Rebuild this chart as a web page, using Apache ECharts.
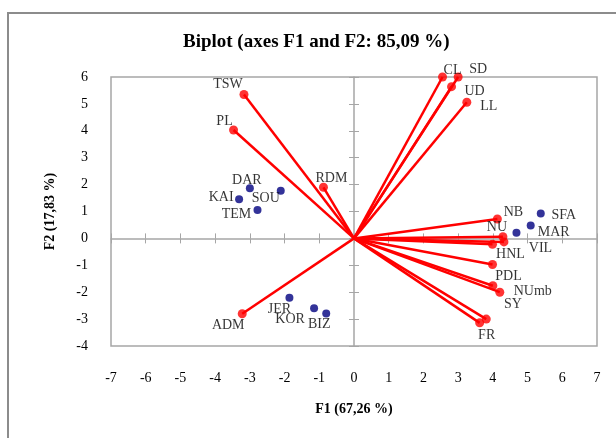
<!DOCTYPE html>
<html><head><meta charset="utf-8">
<script src="https://cdn.jsdelivr.net/npm/echarts@6/dist/echarts.min.js"></script>
<style>html,body{margin:0;padding:0;background:#fff}#c{width:616px;height:438px}</style>
</head><body><div id="c"></div>
<script>
// Variables (red vectors)
const varNames = ['TSW','PL','RDM','ADM','CL','SD','UD','LL','NB','NU','','HNL','PDL','SY','NUmb','','FR'];
const varF1 = [-3.17,-3.47,-0.88,-3.22,2.55,3.00,2.81,3.25,4.13,4.29,4.32,3.99,3.99,4.00,4.20,3.81,3.62];
const varF2 = [5.35,4.03,1.90,-2.80,6.00,6.00,5.64,5.06,0.72,0.06,-0.13,-0.22,-0.97,-1.76,-2.00,-3.00,-3.14];
// Observations (blue points)
const obsNames = ['DAR','KAI','SOU','TEM','JER','KOR','BIZ','SFA','MAR','VIL'];
const obsF1 = [-3.00,-3.31,-2.11,-2.78,-1.86,-1.15,-0.80,5.38,5.09,4.68];
const obsF2 = [1.86,1.46,1.77,1.06,-2.21,-2.60,-2.79,0.93,0.48,0.21];
const axisMin = -7, axisMax = 7, yMin = -4, yMax = 6;

// label placement (style only)
const varLabelOffset = [[-16,-10],[-9,-9],[8,-9],[-14,12],[10,-7],[20,-8],[23,5],[22,4],[16,-7],[-6,-9],null,[18,10],[16,12],[20,19],[33,-1],null,[7,12]];
const obsLabelOffset = [[-3,-8],[-18,-2],[-15,8],[-21,4],[-10,11],[-24,11],[-7,11],[23,2],[23,7],[24,16]];

const serif = 'Liberation Serif';
const labelBase = {show:true, position:'inside', color:'#000', fontFamily:serif, fontSize:14};

const chart = echarts.init(document.getElementById('c'), null, {renderer:'canvas'});
const gray = '#A6A6A6';
const zeroAxisCommon = {type:'value', min:axisMin, max:axisMax, interval:1, axisLabel:{show:false}, splitLine:{show:false}};
const zeroYCommon = {type:'value', min:yMin, max:yMax, interval:1, axisLabel:{show:false}, splitLine:{show:false}};

chart.setOption({
  animation:false,
  backgroundColor:'#fff',
  title:{text:'Biplot (axes F1 and F2: 85,09 %)', left:183, top:33, padding:0,
    textStyle:{fontFamily:serif, fontWeight:'bold', fontSize:19, color:'#000'}},
  graphic:[{type:'rect', silent:true, shape:{x:8,y:13,width:720,height:520}, style:{fill:'none', stroke:'#8C8C8C', lineWidth:2}}],
  grid:{left:111, top:77, width:486, height:269, show:true, borderColor:gray, borderWidth:1.5, backgroundColor:'transparent'},
  xAxis:[
    {type:'value', min:axisMin, max:axisMax, interval:1, position:'bottom',
     axisLine:{show:false, onZero:false}, axisTick:{show:false}, splitLine:{show:false},
     axisLabel:{margin:25, fontFamily:serif, fontSize:14, color:'#000'},
     name:'F1 (67,26 %)', nameLocation:'middle', nameGap:56,
     nameTextStyle:{fontFamily:serif, fontWeight:'bold', fontSize:14, color:'#000'}},
    Object.assign({}, zeroAxisCommon, {position:'bottom', axisLine:{show:true, onZero:true, lineStyle:{color:gray, width:1.5}}, axisTick:{show:true, length:5, lineStyle:{color:gray}}}),
    Object.assign({}, zeroAxisCommon, {position:'top', axisLine:{show:false, onZero:true}, axisTick:{show:true, length:5, lineStyle:{color:gray}}})
  ],
  yAxis:[
    {type:'value', min:yMin, max:yMax, interval:1, position:'left',
     axisLine:{show:false, onZero:false}, axisTick:{show:false}, splitLine:{show:false},
     axisLabel:{margin:23, fontFamily:serif, fontSize:14, color:'#000'},
     name:'F2 (17,83 %)', nameLocation:'middle', nameGap:54, nameRotate:90,
     nameTextStyle:{fontFamily:serif, fontWeight:'bold', fontSize:14, color:'#000'}},
    Object.assign({}, zeroYCommon, {position:'left', axisLine:{show:true, onZero:true, lineStyle:{color:gray, width:1.5}}, axisTick:{show:true, length:5, lineStyle:{color:gray}}}),
    Object.assign({}, zeroYCommon, {position:'right', axisLine:{show:false, onZero:true}, axisTick:{show:true, length:5, lineStyle:{color:gray}}})
  ],
  series:[
    {type:'lines', coordinateSystem:'cartesian2d', xAxisIndex:0, yAxisIndex:0, silent:true, z:3,
     lineStyle:{color:'#FF0000', width:2.5, opacity:1},
     data:varNames.map((n,i)=>({coords:[[0,0],[varF1[i],varF2[i]]]}))},
    {type:'scatter', xAxisIndex:0, yAxisIndex:0, symbolSize:9, z:4, silent:true,
     itemStyle:{color:'#FF0000'},
     data:varNames.map((n,i)=>({name:n, value:[varF1[i],varF2[i]],
       label: varLabelOffset[i] ? Object.assign({}, labelBase, {offset:varLabelOffset[i], formatter:n}) : {show:false}}))},
    {type:'scatter', xAxisIndex:0, yAxisIndex:0, symbolSize:8, z:4, silent:true,
     itemStyle:{color:'#000080'},
     data:obsNames.map((n,i)=>({name:n, value:[obsF1[i],obsF2[i]],
       label:Object.assign({}, labelBase, {offset:obsLabelOffset[i], formatter:n})}))}
  ]
});
</script></body></html>
